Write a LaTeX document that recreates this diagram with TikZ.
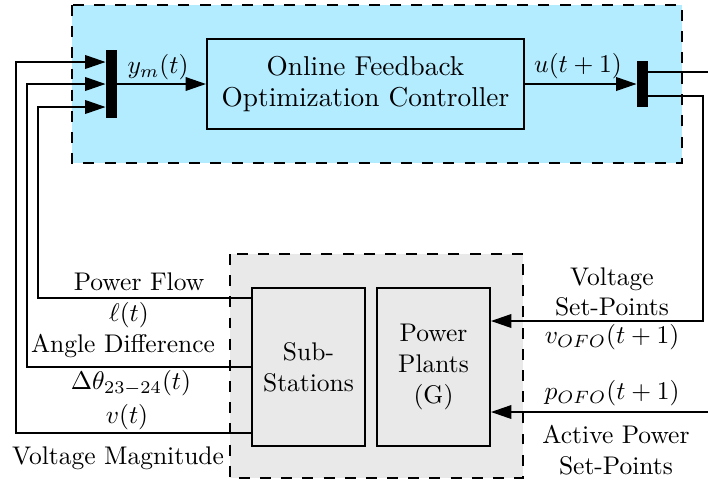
\documentclass[tikz,border=0pt]{standalone}
\usepackage{amsmath}
\usetikzlibrary{arrows.meta}
\definecolor{ofoblue}{RGB}{180,236,255}
\definecolor{gridgray}{RGB}{233,233,233}
\tikzset{
  area/.style={draw, line width=1pt, dash pattern=on 4.3pt off 4pt},
  block/.style={draw, line width=0.8pt, align=center, inner sep=0pt},
  muxbar/.style={fill=black, inner sep=0pt, minimum width=4.3pt},
  sig/.style={line width=0.45pt},
  sigarrow/.style={sig, -{Triangle[length=8pt,width=5.4pt]}}
}
\begin{document}
\begin{tikzpicture}[x=0.392pt,y=-0.392pt]
  \useasboundingbox (0,0) rectangle (708,482);
  % controller side and grid side
  \draw[area, fill=ofoblue] (72,5) rectangle (682,163);
  \draw[area, fill=gridgray] (230,254) rectangle (523,478);
  \node[block, minimum width=124.3pt, minimum height=35.3pt] (ofo) at (365.5,84)
    {\fontsize{10.7}{13.7}\selectfont Online Feedback\\
     \fontsize{10.7}{13.7}\selectfont Optimization Controller};
  \node[muxbar, minimum height=26.7pt] (muxin) at (111.5,84) {};
  \node[muxbar, minimum height=18pt] (muxout) at (642.5,84) {};
  \node[block, minimum width=44.3pt, minimum height=61.9pt] (subs) at (308.5,367)
    {Sub-\\Stations};
  \node[block, minimum width=44.3pt, minimum height=61.9pt] (plants) at (433.5,367)
    {Power\\Plants\\(G)};
  \coordinate (vset) at (708,72);
  \coordinate (pset) at (708,412);
  % measurements
  \draw[sigarrow] (subs.west |- 0,298) -| (38,107) -- (muxin.west |- 0,107);
  \draw[sigarrow] (subs.west |- 0,367) -| (27,84) -- (muxin.west |- 0,84);
  \draw[sigarrow] (subs.west |- 0,433) -| (16,62) -- (muxin.west |- 0,62);
  \draw[sigarrow] (muxin.east) -- (ofo.west);
  % set-points
  \draw[sigarrow] (ofo.east) -- (muxout.west);
  \draw[sig] (muxout.east |- 0,72) -- (vset);
  \draw[sigarrow] (muxout.east |- 0,96) -| (703,321) -- (plants.east |- 0,321);
  \draw[sigarrow] (pset) -- (plants.east |- 0,412);
  \node (ym) at (158,67) {$y_m(t)$};
  \node (u) at (578,66) {$u(t+1)$};
  \node (pflow) at (139,282) {Power Flow};
  \node (ell) at (129,315) {$\ell(t)$};
  \node (adiff) at (123,346) {Angle Difference};
  \node (dtheta) at (131,383) {$\Delta\theta_{23-24}(t)$};
  \node (vt) at (127,417) {$v(t)$};
  \node (vmag) at (118,458) {Voltage Magnitude};
  \node[align=center] (vlabel) at (612,292) {Voltage\\Set-Points};
  \node (vofo) at (612,337) {$v_{OFO}(t+1)$};
  \node (pofo) at (612,393) {$p_{OFO}(t+1)$};
  \node[align=center] (plabel) at (616,450) {Active Power\\Set-Points};
\end{tikzpicture}
\end{document}
